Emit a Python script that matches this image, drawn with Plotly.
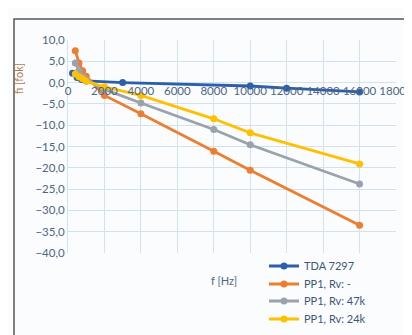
import plotly.graph_objects as go

# Data
f_tda = [250, 500, 750, 1000, 3000, 10000, 12000, 16000]
v_tda = [2.2, 1.2, 0.7, 0.4, 0.0, -0.8, -1.3, -2.2]

f_pp = [400, 600, 800, 1000, 2000, 4000, 8000, 10000, 16000]
v_pp_none = [7.5, 4.6, 2.8, 1.5, -3.0, -7.3, -16.1, -20.6, -33.5]
v_pp_47k = [4.6, 2.8, 1.5, 0.6, -1.6, -4.8, -11.0, -14.6, -23.8]
v_pp_24k = [2.0, 1.4, 0.9, 0.3, -1.0, -3.0, -8.5, -11.8, -19.1]

names = ["TDA 7297", "PP1, Rv: -", "PP1, Rv: 47k", "PP1, Rv: 24k"]
colors = ["#2c5fab", "#ed7d31", "#9aa3ad", "#ffc000"]

x_ticks = list(range(0, 18001, 2000))
y_ticks = list(range(-40, 11, 5))

W, H = 412, 335
L, R, T, B = 60, 24, 32, 90
pw, ph = W - L - R, H - T - B

def px(x):
    return (x - L) / pw

def py(y):
    return (H - B - y) / ph

fig = go.Figure()
series = [(f_tda, v_tda), (f_pp, v_pp_none), (f_pp, v_pp_47k), (f_pp, v_pp_24k)]
legend_ids = ["legend", "legend2", "legend3", "legend4"]
legend_y = [258, 276, 293, 311]
for (fx, vy), n, c, lid in zip(series, names, colors, legend_ids):
    fig.add_trace(go.Scatter(x=fx, y=vy, name=n, mode="lines+markers",
                             line=dict(color=c, width=2.8),
                             marker=dict(color=c, size=7), legend=lid))

legend_layout = {}
for lid, ly in zip(legend_ids, legend_y):
    legend_layout[lid] = dict(x=px(256), y=py(ly), xanchor="left", yanchor="middle",
                              bgcolor="rgba(0,0,0,0)",
                              font=dict(size=11, color="#3e5878"))

fig.update_layout(
    width=W, height=H,
    margin=dict(l=L, r=R, t=T, b=B, autoexpand=False),
    paper_bgcolor="#fbfcfd", plot_bgcolor="#fbfcfd",
    separators=", ",
    font=dict(family="Lato", size=11, color="#4e6683"),
    showlegend=True,
    xaxis=dict(range=[0, 18000], tickvals=x_ticks, tickformat="d",
               showgrid=True, gridcolor="#d3e2ec", gridwidth=1,
               zeroline=False, showline=False, anchor="free", position=0.8,
               ticks="", tickfont=dict(size=11.5, color="#4e6683")),
    yaxis=dict(range=[-40, 10], tickvals=y_ticks, tickformat=".1f",
               showgrid=True, gridcolor="#d3e2ec", gridwidth=1,
               zeroline=False, showline=True, linecolor="#d3e2ec",
               ticks="", tickfont=dict(size=11.5, color="#4e6683")),
    shapes=[dict(type="rect", xref="paper", yref="paper",
                 x0=px(6), x1=px(430), y0=py(350), y1=py(11),
                 line=dict(color="#555555", width=1.5), layer="below")],
    annotations=[
        dict(text="fi [fok]", xref="paper", yref="paper", x=px(10), y=py(71),
             xanchor="center", yanchor="middle",
             textangle=-90, showarrow=False, font=dict(size=11, color="#b07a52")),
        dict(text="f [Hz]", xref="paper", yref="paper", x=px(216), y=py(272),
             xanchor="center", yanchor="middle",
             showarrow=False, font=dict(size=11, color="#4e6683")),
    ],
    **legend_layout,
)

fig.write_html("out.html")
